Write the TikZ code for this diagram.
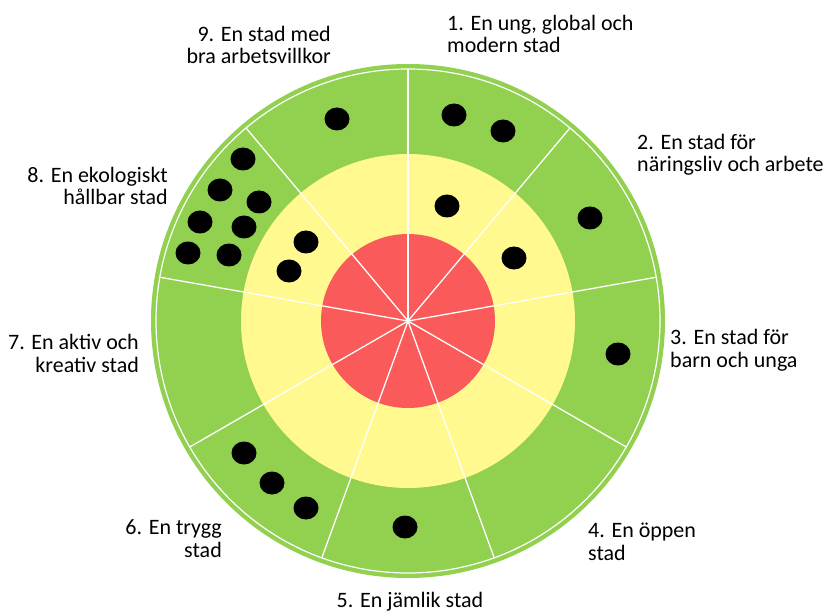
\documentclass[tikz,border=0pt]{standalone}
\usepackage{fontspec}
\setmainfont{Carlito}
\usetikzlibrary{calc}
\definecolor{ringgreen}{RGB}{146,208,80}
\definecolor{ringyellow}{RGB}{255,249,143}
\definecolor{ringred}{RGB}{250,90,90}
\tikzset{
  goal label/.style={font=\fontsize{22}{22.5}\selectfont, inner sep=0pt},
  spoke line/.style={draw=white, line width=1.3pt},
  score dot/.style={fill=black},
}
\def\ScoreDot#1#2{%
  \fill[score dot] (#1,#2) ellipse [x radius=12.5pt, y radius=11.5pt];
}
\begin{document}
\begin{tikzpicture}[x=1pt, y=-1pt]
\useasboundingbox (0,0) rectangle (839,615);
\coordinate (hub) at (408,321);
% rings
\fill[ringgreen] (hub) circle [radius=257pt];
\draw[white, line width=1.2pt] (hub) circle [radius=252pt];
\fill[ringyellow] (hub) circle [radius=167pt];
\fill[ringred] (hub) circle [radius=87pt];
\foreach \a in {90,50,...,-230}
  \draw[spoke line] (hub) -- ++(\a:252pt);
% scores
\ScoreDot{454}{115}
\ScoreDot{503}{131}
\ScoreDot{447}{206}
\ScoreDot{514}{258}
\ScoreDot{590}{218}
\ScoreDot{618}{354}
\ScoreDot{405}{527}
\ScoreDot{244}{453}
\ScoreDot{272}{483}
\ScoreDot{306}{508}
\ScoreDot{337}{119}
\ScoreDot{306}{242}
\ScoreDot{289}{271}
\ScoreDot{243}{159}
\ScoreDot{220}{190}
\ScoreDot{259}{202}
\ScoreDot{200}{222}
\ScoreDot{244}{227}
\ScoreDot{188}{253}
\ScoreDot{229}{255}
% goals
\node[goal label, anchor=base west, align=left] (goal1) at (447,53) {1. En ung, global och\\modern stad};
\node[goal label, anchor=base west, align=left] (goal2) at (637,172) {2. En stad för\\näringsliv och arbete};
\node[goal label, anchor=base west, align=left] (goal3) at (670,367) {3. En stad för\\barn och unga};
\node[goal label, anchor=base west, align=left] (goal4) at (588,560) {4. En öppen\\stad};
\node[goal label, anchor=base] (goal5) at (410,607) {5. En jämlik stad};
\node[goal label, anchor=base east, align=right] (goal6) at (222,557) {6. En trygg\\stad};
\node[goal label, anchor=base east, align=right] (goal7) at (139,372) {7. En aktiv och\\kreativ stad};
\node[goal label, anchor=base east, align=right] (goal8) at (168,205) {8. En ekologiskt\\hållbar stad};
\node[goal label, anchor=base east, align=right] (goal9) at (331,64) {9. En stad med\\bra arbetsvillkor};
\end{tikzpicture}
\end{document}
